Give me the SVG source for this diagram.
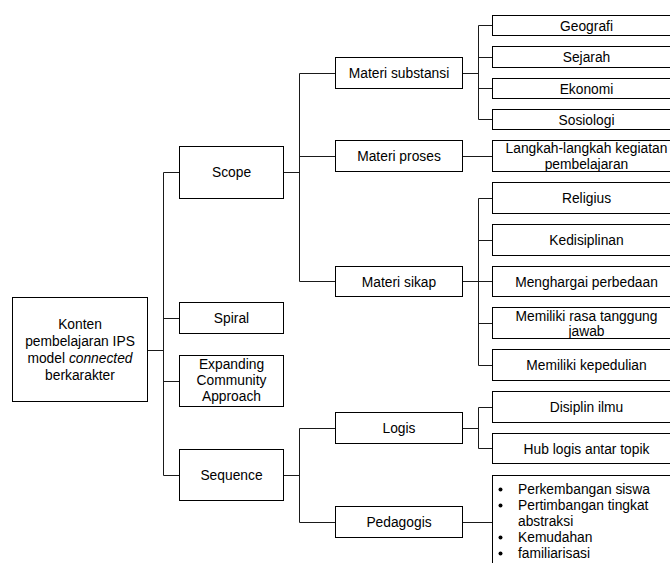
<svg xmlns="http://www.w3.org/2000/svg" width="670" height="563" viewBox="0 0 670 563">
  <style>
    .box { fill: #ffffff; stroke: #000000; stroke-width: 1; }
    .lbl { font-family: "Liberation Sans", Arial, sans-serif; font-size: 13.8px; fill: #000000; text-anchor: middle; }
    .lft { text-anchor: start; }
    .wire { fill: none; stroke: #1a1a1a; stroke-width: 1; }
    .dot { fill: #000000; }
  </style>
  <rect x="0" y="0" width="670" height="563" fill="#ffffff"/>

  <!-- connectors -->
  <g id="connectors" class="wire">
    <!-- root to level 1 -->
    <path d="M147.5 350.5 H163.5"/>
    <path d="M163.5 172.5 V475.5"/>
    <path d="M163.5 172.5 H179.5 M163.5 318.5 H179.5 M163.5 381.5 H179.5 M163.5 475.5 H179.5"/>
    <!-- Scope to level 2 -->
    <path d="M283.5 172.5 H299.5 M299.5 73.5 V281.5"/>
    <path d="M299.5 73.5 H335.5 M299.5 156.5 H335.5 M299.5 281.5 H335.5"/>
    <!-- Sequence to level 2 -->
    <path d="M283.5 475.5 H299.5 M299.5 428.5 V522.5"/>
    <path d="M299.5 428.5 H335.5 M299.5 522.5 H335.5"/>
    <!-- Materi substansi -->
    <path d="M462.5 73.5 H478.5 M478.5 25.5 V119.5"/>
    <path d="M478.5 25.5 H492.5 M478.5 57.5 H492.5 M478.5 88.5 H492.5 M478.5 119.5 H492.5"/>
    <!-- Materi proses -->
    <path d="M462.5 156.5 H492.5"/>
    <!-- Materi sikap -->
    <path d="M462.5 281.5 H478.5 M478.5 198.5 V365.5"/>
    <path d="M478.5 198.5 H492.5 M478.5 240.5 H492.5 M478.5 281.5 H492.5 M478.5 323.5 H492.5 M478.5 365.5 H492.5"/>
    <!-- Logis -->
    <path d="M462.5 428.5 H478.5 M478.5 407.5 V448.5"/>
    <path d="M478.5 407.5 H492.5 M478.5 448.5 H492.5"/>
    <!-- Pedagogis -->
    <path d="M462.5 522.5 H492.5"/>
  </g>

  <!-- root -->
  <g id="root">
    <rect class="box" x="12.5" y="297.5" width="135" height="104"/>
    <text class="lbl" x="80" y="329">Konten</text>
    <text class="lbl" x="80" y="346">pembelajaran IPS</text>
    <text class="lbl" x="80" y="363">model <tspan font-style="italic">connected</tspan></text>
    <text class="lbl" x="80" y="380">berkarakter</text>
  </g>

  <!-- level 1 -->
  <g id="scope">
    <rect class="box" x="179.5" y="146.5" width="104" height="52"/>
    <text class="lbl" x="231.5" y="177">Scope</text>
  </g>
  <g id="spiral">
    <rect class="box" x="179.5" y="302.5" width="104" height="31"/>
    <text class="lbl" x="231.5" y="323">Spiral</text>
  </g>
  <g id="expanding">
    <rect class="box" x="179.5" y="355.5" width="104" height="51"/>
    <text class="lbl" x="231.5" y="369">Expanding</text>
    <text class="lbl" x="231.5" y="385">Community</text>
    <text class="lbl" x="231.5" y="401">Approach</text>
  </g>
  <g id="sequence">
    <rect class="box" x="179.5" y="449.5" width="104" height="51"/>
    <text class="lbl" x="231.5" y="480">Sequence</text>
  </g>

  <!-- level 2 -->
  <g id="materi-substansi">
    <rect class="box" x="335.5" y="57.5" width="127" height="31"/>
    <text class="lbl" x="399" y="78">Materi substansi</text>
  </g>
  <g id="materi-proses">
    <rect class="box" x="335.5" y="140.5" width="127" height="31"/>
    <text class="lbl" x="399" y="161">Materi proses</text>
  </g>
  <g id="materi-sikap">
    <rect class="box" x="335.5" y="266.5" width="127" height="30"/>
    <text class="lbl" x="399" y="286.5">Materi sikap</text>
  </g>
  <g id="logis">
    <rect class="box" x="335.5" y="412.5" width="127" height="31"/>
    <text class="lbl" x="399" y="433">Logis</text>
  </g>
  <g id="pedagogis">
    <rect class="box" x="335.5" y="506.5" width="127" height="31"/>
    <text class="lbl" x="399" y="527">Pedagogis</text>
  </g>

  <!-- level 3 -->
  <g id="geografi">
    <rect class="box" x="492.5" y="15.5" width="188" height="20"/>
    <text class="lbl" x="586.5" y="30.5">Geografi</text>
  </g>
  <g id="sejarah">
    <rect class="box" x="492.5" y="46.5" width="188" height="21"/>
    <text class="lbl" x="586.5" y="62">Sejarah</text>
  </g>
  <g id="ekonomi">
    <rect class="box" x="492.5" y="78.5" width="188" height="20"/>
    <text class="lbl" x="586.5" y="93.5">Ekonomi</text>
  </g>
  <g id="sosiologi">
    <rect class="box" x="492.5" y="109.5" width="188" height="20"/>
    <text class="lbl" x="586.5" y="124.5">Sosiologi</text>
  </g>
  <g id="langkah">
    <rect class="box" x="492.5" y="140.5" width="188" height="31"/>
    <text class="lbl" x="586.5" y="152.5">Langkah-langkah kegiatan</text>
    <text class="lbl" x="586.5" y="169">pembelajaran</text>
  </g>
  <g id="religius">
    <rect class="box" x="492.5" y="182.5" width="188" height="31"/>
    <text class="lbl" x="586.5" y="203">Religius</text>
  </g>
  <g id="kedisiplinan">
    <rect class="box" x="492.5" y="224.5" width="188" height="31"/>
    <text class="lbl" x="586.5" y="245">Kedisiplinan</text>
  </g>
  <g id="menghargai">
    <rect class="box" x="492.5" y="266.5" width="188" height="30"/>
    <text class="lbl" x="586.5" y="286.5">Menghargai perbedaan</text>
  </g>
  <g id="tanggung-jawab">
    <rect class="box" x="492.5" y="307.5" width="188" height="31"/>
    <text class="lbl" x="586.5" y="320.5">Memiliki rasa tanggung</text>
    <text class="lbl" x="586.5" y="336">jawab</text>
  </g>
  <g id="kepedulian">
    <rect class="box" x="492.5" y="349.5" width="188" height="31"/>
    <text class="lbl" x="586.5" y="370">Memiliki kepedulian</text>
  </g>
  <g id="disiplin-ilmu">
    <rect class="box" x="492.5" y="391.5" width="188" height="31"/>
    <text class="lbl" x="586.5" y="412">Disiplin ilmu</text>
  </g>
  <g id="hub-logis">
    <rect class="box" x="492.5" y="433.5" width="188" height="30"/>
    <text class="lbl" x="586.5" y="453.5">Hub logis antar topik</text>
  </g>
  <g id="pedagogis-list">
    <rect class="box" x="492.5" y="475.5" width="188" height="100"/>
    <circle class="dot" cx="500.5" cy="489.5" r="2"/>
    <circle class="dot" cx="500.5" cy="505.5" r="2"/>
    <circle class="dot" cx="500.5" cy="537.5" r="2"/>
    <circle class="dot" cx="500.5" cy="553.5" r="2"/>
    <text class="lbl lft" x="518" y="494">Perkembangan siswa</text>
    <text class="lbl lft" x="518" y="510">Pertimbangan tingkat</text>
    <text class="lbl lft" x="518" y="526">abstraksi</text>
    <text class="lbl lft" x="518" y="542">Kemudahan</text>
    <text class="lbl lft" x="518" y="558">familiarisasi</text>
  </g>
</svg>
